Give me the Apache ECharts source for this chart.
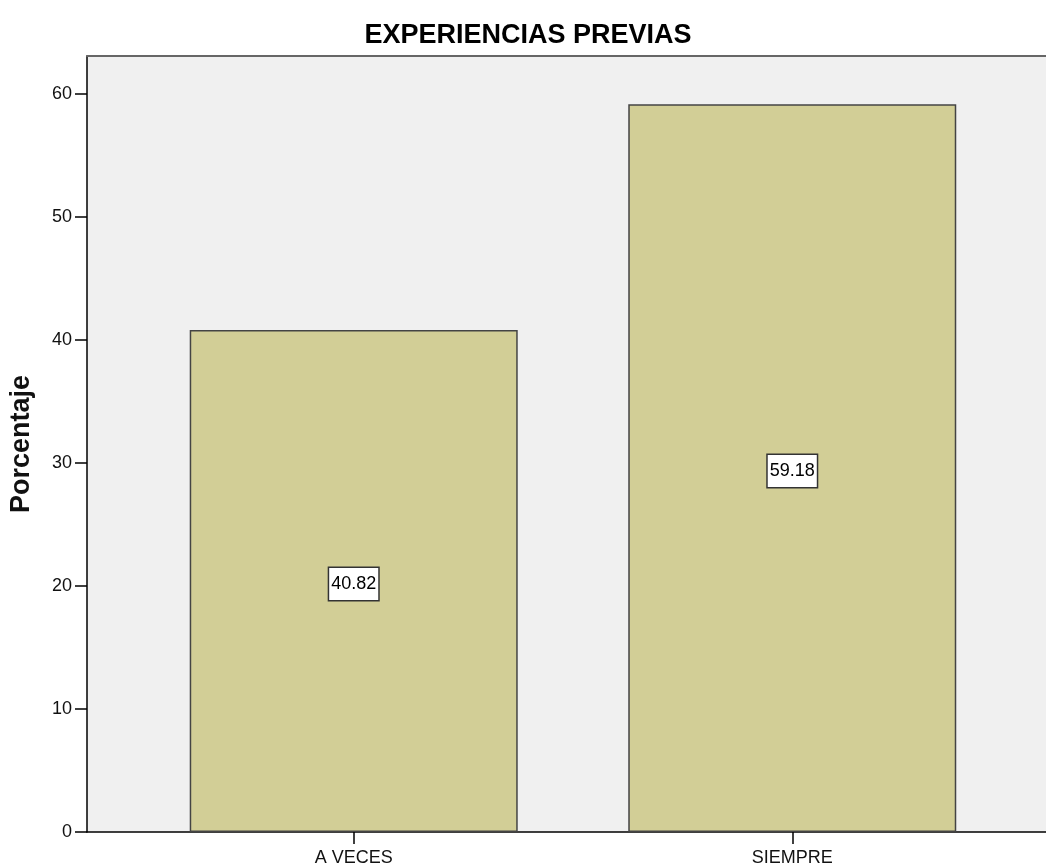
<!DOCTYPE html>
<html>
<head>
<meta charset="utf-8">
<script src="https://cdn.jsdelivr.net/npm/echarts@6/dist/echarts.min.js"></script>
<style>html,body{margin:0;padding:0;background:#fff;}#c{width:1046px;height:868px;}</style>
</head>
<body>
<div id="c"></div>
<script>
const title = 'EXPERIENCIAS PREVIAS';
const categories = ['A VECES', 'SIEMPRE'];
const values = [40.82, 59.18];
const yTicks = [0, 10, 20, 30, 40, 50, 60];
const yName = 'Porcentaje';

const positions = categories.map((c, i) => i + 1);
const FONT = 'Liberation Sans';
const chart = echarts.init(document.getElementById('c'));
chart.setOption({
  backgroundColor: '#ffffff',
  animation: false,
  title: {
    text: title, left: 523, top: 17, textAlign: 'center',
    textStyle: { fontFamily: FONT, fontSize: 27, fontWeight: 'bold', color: '#000' }
  },
  grid: {
    left: 86, top: 56, width: 960, height: 776,
    show: true, backgroundColor: '#f0f0f0', borderWidth: 0
  },
  xAxis: [{
    type: 'value', min: 0.3918, max: 2.5786,
    axisLine: { show: true, lineStyle: { color: '#000', width: 1.5 } },
    axisTick: { show: true, customValues: positions, length: 12, lineStyle: { color: '#000', width: 1.5 } },
    axisLabel: {
      customValues: positions,
      formatter: v => categories[Math.round(v) - 1] || '',
      fontFamily: FONT, fontSize: 18, color: '#111', margin: 17
    },
    splitLine: { show: false }
  }, {
    type: 'value', position: 'top', min: 0.3918, max: 2.5786,
    axisLine: { show: true, lineStyle: { color: '#666', width: 2 } },
    axisTick: { show: false }, axisLabel: { show: false }, splitLine: { show: false }
  }],
  yAxis: {
    type: 'value', min: 0, max: 63.1, interval: 10,
    name: yName, nameLocation: 'middle', nameGap: 52, nameRotate: 90,
    nameTextStyle: { fontFamily: FONT, fontSize: 27, fontWeight: 'bold', color: '#111' },
    axisLine: { show: true, lineStyle: { color: '#000', width: 1.5 } },
    axisTick: { show: true, customValues: yTicks, length: 12, lineStyle: { color: '#000', width: 1.5 } },
    axisLabel: {
      customValues: yTicks,
      fontFamily: FONT, fontSize: 18, color: '#111', margin: 15
    },
    splitLine: { show: false }
  },
  series: [{
    type: 'bar',
    xAxisIndex: 0,
    data: values.map((v, i) => [positions[i], v]),
    barWidth: 328,
    itemStyle: { color: '#d2ce96', borderColor: '#444', borderWidth: 1.5 },
    label: {
      show: true, position: 'inside', offset: [0, 3],
      formatter: p => p.value[1].toFixed(2),
      fontFamily: FONT, fontSize: 18, color: '#000', lineHeight: 20,
      backgroundColor: '#fff', borderColor: '#333', borderWidth: 1.5,
      padding: [6, 2, 6, 2]
    }
  }]
});
</script>
</body>
</html>
